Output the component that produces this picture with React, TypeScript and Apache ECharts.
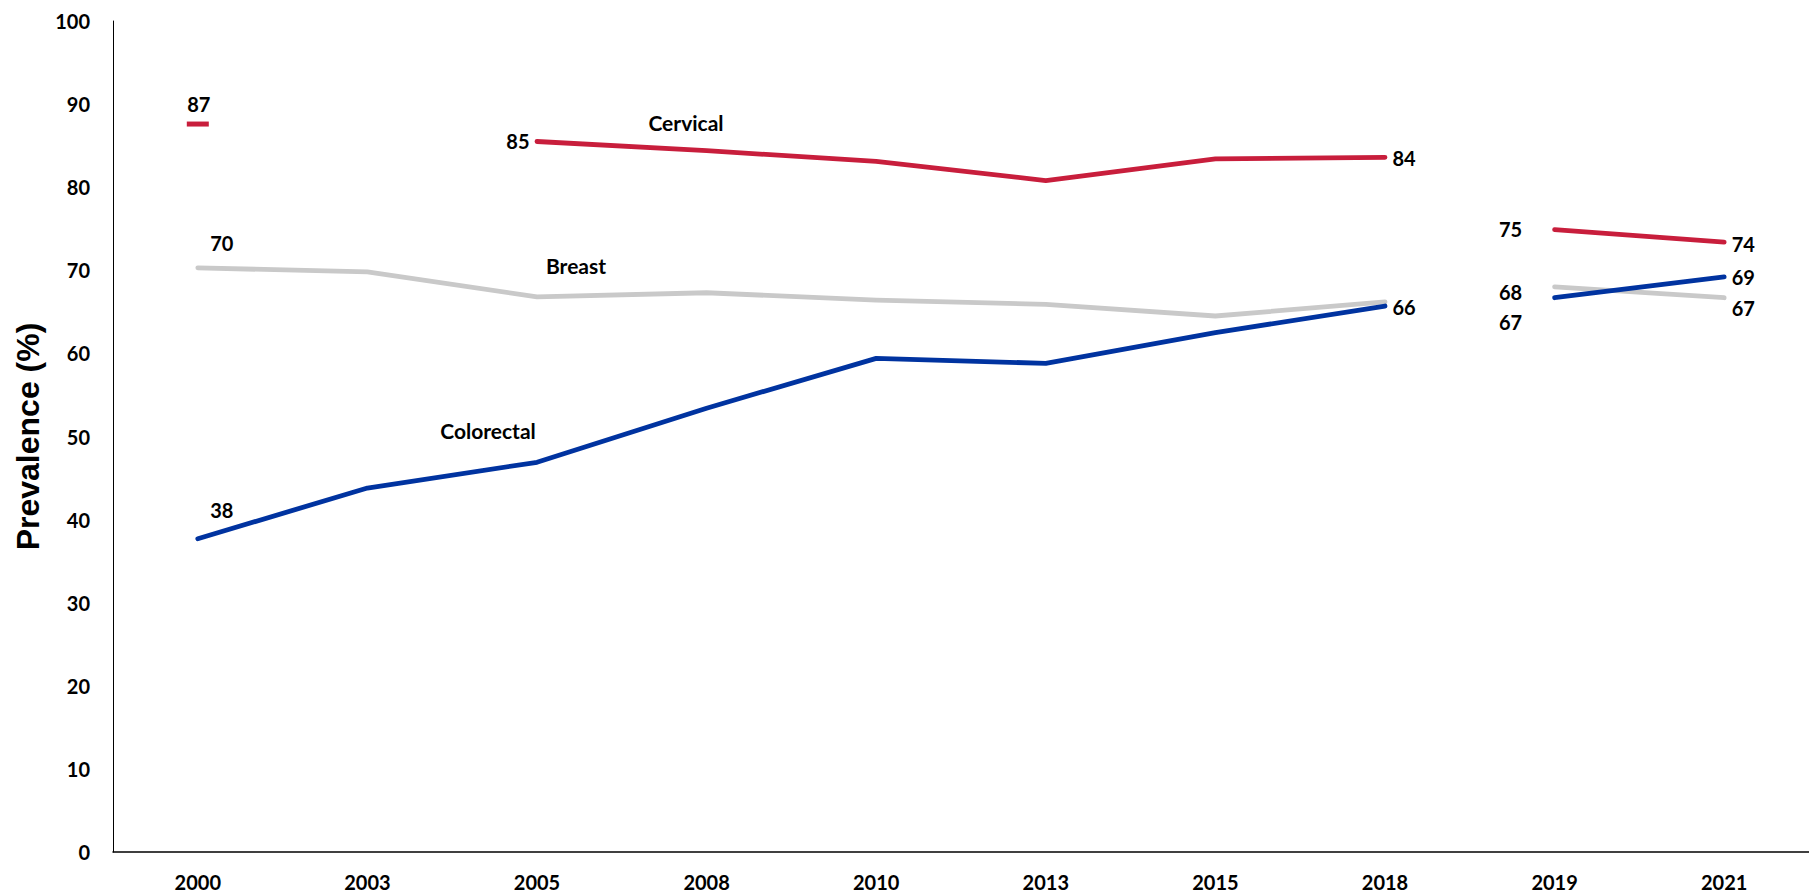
import React, { useEffect, useRef } from "react";
import * as echarts from "echarts";

const years = ["2000", "2003", "2005", "2008", "2010", "2013", "2015", "2018", "2019", "2021"];
// survey break: the series restart at 2019
const breakIndex = 8;

const cervical = [87.6, null, 85.5, 84.4, 83.1, 80.8, 83.4, 83.6, 74.9, 73.4];
const breast = [70.3, 69.8, 66.8, 67.3, 66.4, 65.9, 64.5, 66.2, 68.0, 66.7];
const colorectal = [37.7, 43.8, 46.9, 53.4, 59.4, 58.8, 62.5, 65.7, 66.7, 69.2];

const cervicalLabels = ["87", "", "85", "", "", "", "", "84", "75", "74"];
const breastLabels = ["70", "", "", "", "", "", "", "", "68", "67"];
const colorectalLabels = ["38", "", "", "", "", "", "", "66", "67", "69"];

const seriesNames = ["Cervical", "Breast", "Colorectal"];
const yTicks = { min: 0, max: 100, interval: 10 };

const RED = "#C81E3C";
const GREY = "#C9C9C9";
const BLUE = "#0033A0";
const FONT = "Lato";

type LabelPlace = { position: string; distance: number; offset: [number, number] };

const placeLeft2019 = (dy: number): LabelPlace => ({ position: "left", distance: 32, offset: [0, dy] });
const placeRight = (dy: number): LabelPlace => ({ position: "right", distance: 7, offset: [0, dy] });

const cervicalPlace: Record<number, LabelPlace> = {
  0: { position: "top", distance: 8, offset: [1, 0] },
  2: { position: "left", distance: 7, offset: [0, 0] },
  7: placeRight(1),
  8: placeLeft2019(-1),
  9: placeRight(2),
};
const breastPlace: Record<number, LabelPlace> = {
  0: { position: "top", distance: 5, offset: [24, -9] },
  8: placeLeft2019(5),
  9: placeRight(10),
};
const colorectalPlace: Record<number, LabelPlace> = {
  0: { position: "top", distance: 5, offset: [24, -13] },
  7: placeRight(1),
  8: placeLeft2019(24),
  9: placeRight(0),
};

function buildData(
  values: (number | null)[],
  labels: string[],
  place: Record<number, LabelPlace>,
  from: number,
  to: number,
  isolatedRect: boolean
) {
  return values.map((v, i) => {
    if (i < from || i >= to || v === null) return null;
    const p = place[i];
    const isolated =
      isolatedRect && (i === from || values[i - 1] === null) && (i + 1 >= to || values[i + 1] === null);
    const item: any = { value: v };
    if (isolated) {
      item.symbol = "rect";
      item.symbolSize = [22, 5];
    }
    if (p && labels[i]) {
      item.label = {
        show: true,
        formatter: labels[i],
        position: p.position,
        distance: p.distance,
        offset: p.offset,
      };
    }
    return item;
  });
}

function makeSeries(
  name: string,
  values: (number | null)[],
  labels: string[],
  place: Record<number, LabelPlace>,
  color: string,
  z: number
) {
  const common = {
    type: "line",
    name,
    connectNulls: false,
    symbol: "circle",
    symbolSize: 1,
    showSymbol: true,
    z,
    itemStyle: { color },
    lineStyle: { color, width: 4.8, cap: "round", join: "round" },
    label: {
      show: false,
      color: "#000",
      fontFamily: FONT,
      fontWeight: "bold",
      fontSize: 20,
    },
    emphasis: { disabled: true },
  };
  return [
    { ...common, data: buildData(values, labels, place, 0, breakIndex, true) },
    { ...common, data: buildData(values, labels, place, breakIndex, values.length, true) },
  ];
}

export default function App() {
  const ref = useRef<HTMLDivElement>(null);

  useEffect(() => {
    if (!ref.current) return;
    const chart = echarts.init(ref.current, undefined, { renderer: "svg" });
    const nameStyle = (text: string) => ({
      text,
      fill: "#000",
      font: `bold 21px ${FONT}`,
      textAlign: "center",
      textVerticalAlign: "middle",
    });
    const option: any = {
      animation: false,
      backgroundColor: "#fff",
      grid: { left: 113, top: 21, width: 1722, height: 831, containLabel: false },
      xAxis: {
        type: "category",
        data: years,
        boundaryGap: true,
        axisLine: { show: true, lineStyle: { color: "#000", width: 1.5 } },
        axisTick: { show: false },
        splitLine: { show: false },
        axisLabel: {
          margin: 20,
          color: "#000",
          fontFamily: FONT,
          fontWeight: "bold",
          fontSize: 20,
        },
      },
      yAxis: {
        type: "value",
        min: yTicks.min,
        max: yTicks.max,
        interval: yTicks.interval,
        name: "Prevalence (%)",
        nameLocation: "middle",
        nameGap: 64,
        nameTextStyle: {
          color: "#000",
          fontFamily: "Liberation Sans",
          fontWeight: "bold",
          fontSize: 32,
        },
        axisLine: { show: true, lineStyle: { color: "#000", width: 1 } },
        axisTick: { show: false },
        splitLine: { show: false },
        axisLabel: {
          margin: 23,
          color: "#000",
          fontFamily: FONT,
          fontWeight: "bold",
          fontSize: 20,
        },
      },
      graphic: [
        { type: "text", x: 686, y: 122, style: nameStyle(seriesNames[0]) },
        { type: "text", x: 576, y: 265, style: nameStyle(seriesNames[1]) },
        { type: "text", x: 488, y: 430, style: nameStyle(seriesNames[2]) },
      ],
      series: [
        ...makeSeries(seriesNames[1], breast, breastLabels, breastPlace, GREY, 2),
        ...makeSeries(seriesNames[2], colorectal, colorectalLabels, colorectalPlace, BLUE, 3),
        ...makeSeries(seriesNames[0], cervical, cervicalLabels, cervicalPlace, RED, 4),
      ],
    };
    chart.setOption(option);
    return () => chart.dispose();
  }, []);

  return (
    <div
      ref={ref}
      style={{ position: "absolute", left: 0, top: 0, width: 1809, height: 895, background: "#fff" }}
    />
  );
}
